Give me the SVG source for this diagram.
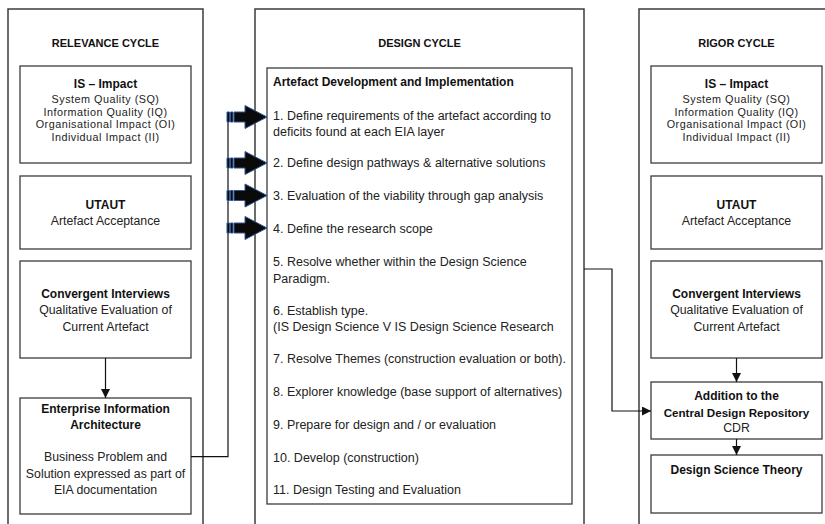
<svg xmlns="http://www.w3.org/2000/svg" width="825" height="524" viewBox="0 0 825 524">
<defs>
<style>
.col{fill:#fff;stroke:#3c3c3c;stroke-width:1.5}
.box{fill:#fff;stroke:#3c3c3c;stroke-width:1.3}
text{font-family:"Liberation Sans",Arial,sans-serif;fill:#222}
.t{font-size:12.3px;text-anchor:middle}
.s{font-size:10.8px;letter-spacing:0.5px;text-anchor:middle}
.b{font-size:12px;font-weight:bold;text-anchor:middle;fill:#111}
.h{font-size:11px;font-weight:bold;text-anchor:middle;fill:#111}
.i{font-size:12.5px}
.ib{font-size:12px;font-weight:bold;fill:#111}
.con{fill:none;stroke:#111;stroke-width:1.2}
.blk{fill:#0a0a0a;stroke:#2f5597;stroke-width:1}
</style>
<marker id="ah" viewBox="0 0 10 10" refX="10" refY="5" markerWidth="9" markerHeight="9" markerUnits="userSpaceOnUse" orient="auto"><path d="M0,0 L10,5 L0,10 z" fill="#111"/></marker>
<g id="blockArrow" class="blk">
<path d="M227,-5 h2.5 v10 h-2.5 z"/>
<path d="M230.5,-5 h2.5 v10 h-2.5 z"/>
<path d="M234,-5 H245 V-11.5 L267,0 L245,11.5 V5 H234 z"/>
</g>
</defs>

<g id="relevance-cycle">
<rect class="col" x="8" y="9" width="195" height="530"/>
<text class="h" x="105.5" y="47">RELEVANCE CYCLE</text>
</g>
<g id="design-cycle">
<rect class="col" x="255" y="9" width="329" height="530"/>
<text class="h" x="419.5" y="47">DESIGN CYCLE</text>
</g>
<g id="rigor-cycle">
<rect class="col" x="639" y="9" width="200" height="530"/>
<text class="h" x="736.5" y="47">RIGOR CYCLE</text>
</g>

<g id="l-is-impact">
<rect class="box" x="20" y="66" width="171" height="97"/>
<text class="b" x="105.5" y="87.5">IS – Impact</text>
<text class="s" x="105.5" y="103.1">System Quality (SQ)</text>
<text class="s" x="105.5" y="115.6">Information Quality (IQ)</text>
<text class="s" x="105.5" y="128.1">Organisational Impact (OI)</text>
<text class="s" x="105.5" y="140.6">Individual Impact (II)</text>
</g>
<g id="l-utaut">
<rect class="box" x="20" y="176" width="171" height="73"/>
<text class="b" x="105.5" y="209">UTAUT</text>
<text class="t" x="105.5" y="225">Artefact Acceptance</text>
</g>
<g id="l-convergent">
<rect class="box" x="20" y="261" width="171" height="97"/>
<text class="b" x="105.5" y="298">Convergent Interviews</text>
<text class="t" x="105.5" y="314">Qualitative Evaluation of</text>
<text class="t" x="105.5" y="331">Current Artefact</text>
</g>
<g id="l-eia">
<rect class="box" x="20" y="398" width="171" height="116"/>
<text class="b" x="105.5" y="412.5">Enterprise Information</text>
<text class="b" x="105.5" y="429">Architecture</text>
<text class="t" x="105.5" y="461">Business Problem and</text>
<text class="t" x="105.5" y="477.5">Solution expressed as part of</text>
<text class="t" x="105.5" y="493.5">EIA documentation</text>
</g>

<g id="artefact-development">
<rect class="box" x="267" y="68" width="305" height="436"/>
<text class="ib" x="273" y="85.5">Artefact Development and Implementation</text>
<text class="i" x="273" y="119.5">1. Define requirements of the artefact according to</text>
<text class="i" x="273" y="135.5">deficits found at each EIA layer</text>
<text class="i" x="273" y="166.5">2. Define design pathways &amp; alternative solutions</text>
<text class="i" x="273" y="200">3. Evaluation of the viability through gap analysis</text>
<text class="i" x="273" y="233">4. Define the research scope</text>
<text class="i" x="273" y="266">5. Resolve whether within the Design Science</text>
<text class="i" x="273" y="282.5">Paradigm.</text>
<text class="i" x="273" y="314.5">6. Establish type.</text>
<text class="i" x="273" y="330.5">(IS Design Science V IS Design Science Research</text>
<text class="i" x="273" y="363">7. Resolve Themes (construction evaluation or both).</text>
<text class="i" x="273" y="395.5">8. Explorer knowledge (base support of alternatives)</text>
<text class="i" x="273" y="428.5">9. Prepare for design and / or evaluation</text>
<text class="i" x="273" y="461.5">10. Develop (construction)</text>
<text class="i" x="273" y="493.5">11. Design Testing and Evaluation</text>
</g>

<g id="r-is-impact">
<rect class="box" x="651" y="66" width="171" height="97"/>
<text class="b" x="736.5" y="87.5">IS – Impact</text>
<text class="s" x="736.5" y="103.1">System Quality (SQ)</text>
<text class="s" x="736.5" y="115.6">Information Quality (IQ)</text>
<text class="s" x="736.5" y="128.1">Organisational Impact (OI)</text>
<text class="s" x="736.5" y="140.6">Individual Impact (II)</text>
</g>
<g id="r-utaut">
<rect class="box" x="651" y="176" width="171" height="73"/>
<text class="b" x="736.5" y="209">UTAUT</text>
<text class="t" x="736.5" y="225">Artefact Acceptance</text>
</g>
<g id="r-convergent">
<rect class="box" x="651" y="261" width="171" height="97"/>
<text class="b" x="736.5" y="298">Convergent Interviews</text>
<text class="t" x="736.5" y="314">Qualitative Evaluation of</text>
<text class="t" x="736.5" y="331">Current Artefact</text>
</g>
<g id="r-cdr">
<rect class="box" x="651" y="382" width="171" height="57"/>
<text class="b" x="736.5" y="400">Addition to the</text>
<text class="b" x="736.5" y="417" style="font-size:11.6px">Central Design Repository</text>
<text class="t" x="736.5" y="432">CDR</text>
</g>
<g id="r-dst">
<rect class="box" x="651" y="455" width="171" height="58"/>
<text class="b" x="736.5" y="473.5">Design Science Theory</text>
</g>

<g id="connectors">
<path class="con" d="M105.5,358 V398" marker-end="url(#ah)"/>
<path class="con" d="M191,456.7 H228 V117"/>
<path class="con" d="M584,269 H612 V411 H651" marker-end="url(#ah)"/>
<path class="con" d="M736.5,358 V382" marker-end="url(#ah)"/>
<path class="con" d="M736.5,439 V455" marker-end="url(#ah)"/>
<use href="#blockArrow" y="117"/>
<use href="#blockArrow" y="163"/>
<use href="#blockArrow" y="195.5"/>
<use href="#blockArrow" y="228"/>
</g>
</svg>
